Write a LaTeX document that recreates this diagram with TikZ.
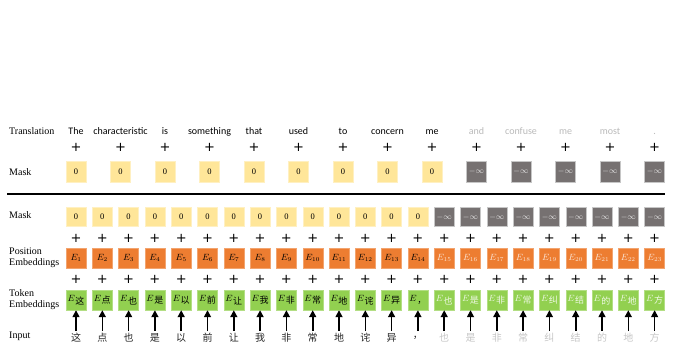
\documentclass[tikz,border=0pt]{standalone}
\usepackage{fontspec}
\setmainfont{Liberation Serif}
\newfontfamily\wordfont{Carlito}
\newfontfamily\plusfont{DejaVu Sans}
\newfontfamily\cjk{Noto Sans CJK SC}
\usepackage{xcolor}
\usepackage{tikz}
\usetikzlibrary{arrows.meta,positioning,calc}

\definecolor{maskyellow}{HTML}{FFE699}
\definecolor{maskgray}{HTML}{767171}
\definecolor{posorange}{HTML}{ED7D31}
\definecolor{tokgreen}{HTML}{92D050}

\begin{document}
\begin{tikzpicture}[
    x=1pt, y=-1pt,
    rowlabel/.style={anchor=west, inner sep=0pt, align=left, font=\fontsize{10}{11}\selectfont},
    word/.style={inner sep=0pt, font=\wordfont\fontsize{10}{11}\selectfont},
    plus/.style={inner sep=0pt, font=\plusfont\fontsize{13}{13}\selectfont},
    zerobox/.style={rectangle, minimum width=20pt, minimum height=19pt, inner sep=0pt, fill=maskyellow, draw=maskyellow!60, font=\fontsize{8.5}{9}\selectfont},
    infbox/.style={rectangle, minimum width=20pt, minimum height=19pt, inner sep=0pt, fill=maskgray, draw=gray!45, text=white!80!gray, font=\fontsize{8}{9}\selectfont},
    posbox/.style={rectangle, minimum width=20pt, minimum height=20pt, inner sep=0pt, fill=posorange, draw=posorange!70!white, font=\fontsize{9}{10}\selectfont},
    tokbox/.style={rectangle, minimum width=20pt, minimum height=20pt, inner sep=0pt, fill=tokgreen, draw=tokgreen!70!white, font=\fontsize{9}{10}\selectfont},
    inword/.style={inner sep=0pt, font=\cjk\fontsize{10}{11}\selectfont},
    arrow/.style={line width=1.6pt, -{Triangle[length=7pt, width=7pt]}}
]
    \useasboundingbox (0,0) rectangle (676,358);

    % Row labels
    \node[rowlabel] (l_trans) at (9, 131) {Translation};
    \node[rowlabel] (l_mask1) at (9, 172) {Mask};
    \node[rowlabel] (l_mask2) at (9, 215) {Mask};
    \node[rowlabel] (l_pos)   at (9, 258) {Position\\Embeddings};
    \node[rowlabel] (l_tok)   at (9, 300) {Token\\Embeddings};
    \node[rowlabel] (l_input) at (9, 336) {Input};

    % Translation with its mask
    \foreach \w [count=\i] in {The, characteristic, is, something, that, used, to, concern, me, and, confuse, me, most, .} {
        \ifnum\i<10 \def\wc{black}\else\def\wc{gray!55}\fi
        \node[word, text=\wc] (w\i) at ({76+44.5*(\i-1)}, 132) {\strut \w};
        \node[plus] (wp\i) at ({76+44.5*(\i-1)}, 147) {+};
        \ifnum\i<10
            \node[zerobox, minimum height=21pt] (wm\i) at ({76+44.5*(\i-1)}, 171.5) {0};
        \else
            \node[infbox, minimum height=21pt] (wm\i) at ({76+44.5*(\i-1)}, 171.5) {$-\infty$};
        \fi
    }

    % Separator
    \coordinate (sep_l) at (7, 194);
    \coordinate (sep_r) at (665, 194);
    \draw[line width=1.5pt] (sep_l) -- (sep_r);

    % Input side
    \foreach \c [count=\i] in {这,点,也,是,以,前,让,我,非,常,地,诧,异,，,也,是,非,常,纠,结,的,地,方} {
        \ifnum\i<15
            \def\ec{black}\def\tc{black}\def\ic{black!85}
            \node[zerobox] (m\i) at ({76+26.3*(\i-1)}, 217) {0};
        \else
            \def\ec{white!80!posorange}\def\tc{white!85!tokgreen}\def\ic{gray!45}
            \node[infbox] (m\i) at ({76+26.3*(\i-1)}, 217) {$-\infty$};
        \fi
        \node[plus] (mp\i) at ({76+26.3*(\i-1)}, 238) {+};
        \node[posbox, text=\ec] (e\i) at ({76+26.3*(\i-1)}, 258) {$E_{\i}$};
        \node[plus] (ep\i) at ({76+26.3*(\i-1)}, 279) {+};
        \node[tokbox, text=\tc] (t\i) at ({76+26.3*(\i-1)}, 300) {$E$\hspace{0.5pt}\raisebox{-2.5pt}{\cjk\fontsize{9}{9}\selectfont \c}};
        \node[inword, text=\ic] (in\i) at ({76+26.3*(\i-1)}, 338) {\c};
        \coordinate (a\i) at ({76+26.3*(\i-1)}, 331);
        \draw[arrow] (a\i) -- (t\i.south);
    }

\end{tikzpicture}
\end{document}
